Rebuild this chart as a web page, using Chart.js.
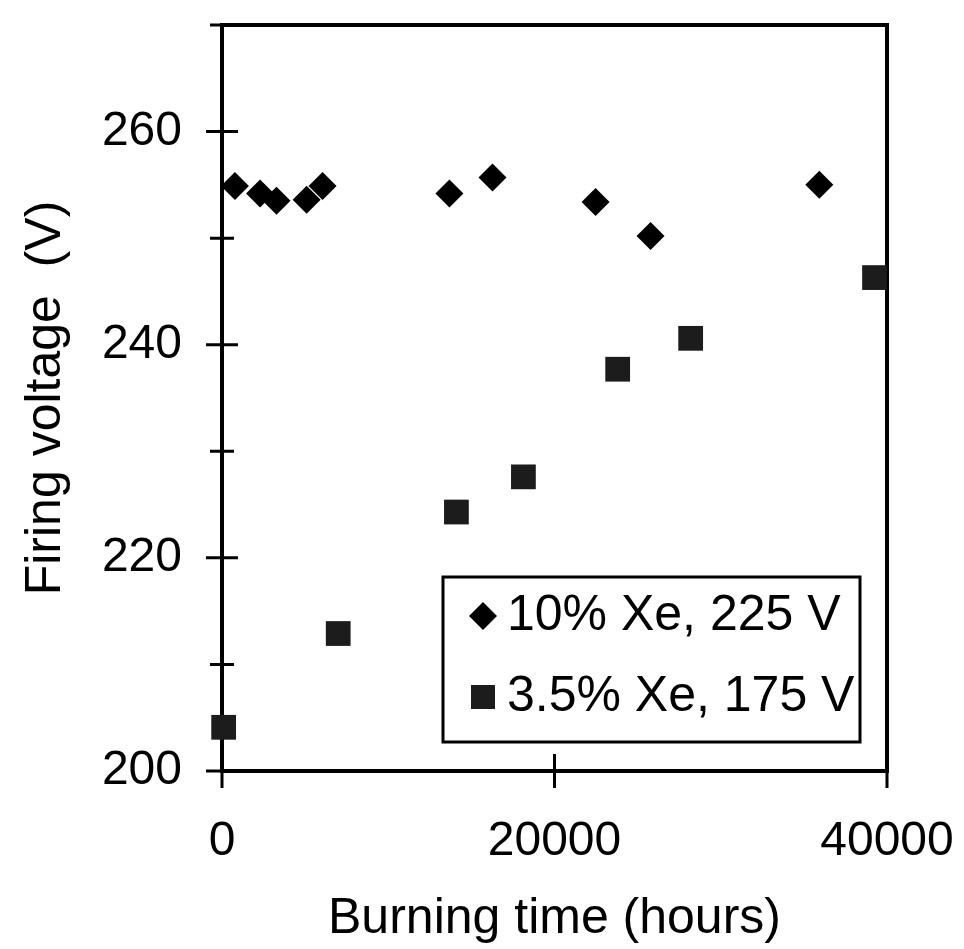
<!DOCTYPE html>
<html>
<head>
<meta charset="utf-8">
<title>Firing voltage vs burning time</title>
<script src="https://cdn.jsdelivr.net/npm/chart.js@4.4.1/dist/chart.umd.min.js"></script>
<style>
  html, body { margin: 0; padding: 0; background: #fff; }
  canvas { display: block; }
</style>
</head>
<body>
<canvas id="firing" width="964" height="949"></canvas>
<script>
// values: burning time (hours) and firing voltage (V)
const xe10Hours = [780, 2290, 3280, 5090, 6050, 13680, 16270, 22470, 25780, 35930];
const xe10Volts = [254.9, 254.2, 253.5, 253.6, 254.9, 254.2, 255.7, 253.4, 250.2, 255.0];
const xe35Hours = [100, 6990, 14100, 18130, 23800, 28190, 39250];
const xe35Volts = [204.1, 212.9, 224.3, 227.6, 237.7, 240.6, 246.3];

const seriesLabels = ['10% Xe, 225 V', '3.5% Xe, 175 V'];
const xTicks = [0, 20000, 40000];
const yLabelTicks = [200, 220, 240, 260];

Chart.defaults.font.family = '"Liberation Sans", Arial, sans-serif';
Chart.defaults.color = '#000';

// keep the plot area exactly where the layout padding puts it
function fixScale(s, size) {
  if (s.isHorizontal()) s.height = size; else s.width = size;
  s.paddingTop = 0;
  s.paddingBottom = 0;
  s.paddingLeft = 0;
  s.paddingRight = 0;
}

// box round the plot area, and tick marks that cross the axes
const framePlugin = {
  id: 'frame',
  beforeDatasetsDraw(chart) {
    const { ctx, chartArea: a, scales: { x, y } } = chart;
    ctx.save();
    ctx.strokeStyle = '#000';
    ctx.lineWidth = 4;
    ctx.strokeRect(a.left, a.top, a.right - a.left, a.bottom - a.top);
    ctx.lineWidth = 3;
    ctx.beginPath();
    y.ticks.forEach(t => {
      const py = y.getPixelForValue(t.value);
      const len = t.value % 20 === 0 ? 16 : 12;
      ctx.moveTo(a.left - len, py);
      ctx.lineTo(t.value === y.max ? a.left : a.left + len, py);
    });
    x.ticks.forEach(t => {
      const px = x.getPixelForValue(t.value);
      ctx.moveTo(px, a.bottom - 17);
      ctx.lineTo(px, a.bottom + 17);
    });
    ctx.stroke();
    ctx.restore();
  }
};

// legend in a framed box inside the plot
const boxLegend = {
  id: 'boxLegend',
  afterDatasetsDraw(chart) {
    const { ctx } = chart;
    const box = { left: 443, top: 577, right: 860, bottom: 742 };
    const rows = [616, 697];
    ctx.save();
    ctx.fillStyle = '#fff';
    ctx.fillRect(box.left, box.top, box.right - box.left, box.bottom - box.top);
    ctx.strokeStyle = '#000';
    ctx.lineWidth = 3;
    ctx.strokeRect(box.left, box.top, box.right - box.left, box.bottom - box.top);
    chart.data.datasets.forEach((ds, i) => {
      const cy = rows[i];
      ctx.fillStyle = ds.backgroundColor;
      ctx.beginPath();
      if (ds.pointStyle === 'rectRot') {
        ctx.moveTo(483, cy - 14);
        ctx.lineTo(497, cy);
        ctx.lineTo(483, cy + 14);
        ctx.lineTo(469, cy);
        ctx.closePath();
      } else {
        ctx.rect(471, cy - 12, 24, 24);
      }
      ctx.fill();
      ctx.fillStyle = '#000';
      ctx.font = '50px "Liberation Sans", Arial, sans-serif';
      ctx.textBaseline = 'middle';
      ctx.fillText(ds.label, 507, cy);
    });
    ctx.restore();
  }
};

new Chart(document.getElementById('firing'), {
  type: 'scatter',
  data: {
    datasets: [
      {
        label: seriesLabels[0],
        data: xe10Hours.map((h, i) => ({ x: h, y: xe10Volts[i] })),
        pointStyle: 'rectRot',
        pointRadius: 14,
        backgroundColor: '#000',
        borderColor: '#000',
        borderWidth: 0,
        clip: false
      },
      {
        label: seriesLabels[1],
        data: xe35Hours.map((h, i) => ({ x: h, y: xe35Volts[i] })),
        pointStyle: 'rect',
        pointRadius: 17.5,
        backgroundColor: '#1c1c1c',
        borderColor: '#1c1c1c',
        borderWidth: 0,
        clip: false
      }
    ]
  },
  options: {
    responsive: false,
    animation: false,
    layout: { padding: { top: 25, right: 77, left: 0, bottom: 0 } },
    plugins: {
      legend: { display: false },
      tooltip: { enabled: false }
    },
    scales: {
      x: {
        type: 'linear',
        min: 0,
        max: 40000,
        afterBuildTicks: s => { s.ticks = xTicks.map(v => ({ value: v })); },
        afterFit: s => fixScale(s, 178),
        grid: { display: false, drawTicks: false },
        border: { display: false },
        ticks: {
          padding: 42,
          autoSkip: false,
          maxRotation: 0,
          font: { size: 48 },
          callback: v => String(v)
        },
        title: {
          display: true,
          text: 'Burning time (hours)',
          font: { size: 50 },
          padding: { top: 0, bottom: 0 }
        }
      },
      y: {
        min: 200,
        max: 270,
        afterFit: s => fixScale(s, 222),
        grid: { display: false, drawTicks: false },
        border: { display: false },
        ticks: {
          stepSize: 10,
          padding: 40,
          autoSkip: false,
          font: { size: 48 },
          callback: v => yLabelTicks.includes(v) ? String(v) : ''
        },
        title: {
          display: true,
          text: 'Firing voltage  (V)',
          font: { size: 50 },
          padding: { top: 16, bottom: 0 }
        }
      }
    }
  },
  plugins: [framePlugin, boxLegend]
});
</script>
</body>
</html>
